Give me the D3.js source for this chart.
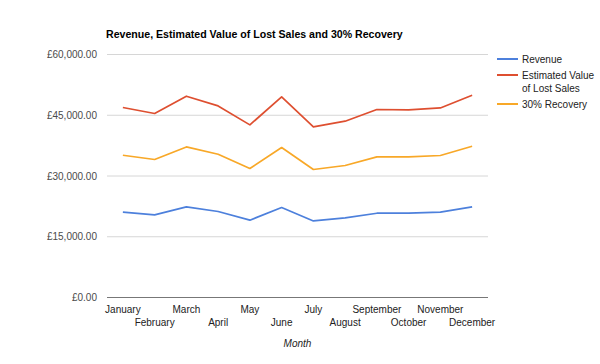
<!DOCTYPE html>
<html>
<head>
<meta charset="utf-8">
<script src="https://cdn.jsdelivr.net/npm/d3@7"></script>
<style>
  body { margin: 0; background: #fff; }
  text { font-family: "Liberation Sans", Arial, sans-serif; }
</style>
</head>
<body>
<svg width="600" height="364"></svg>
<script>
var months = ["January", "February", "March", "April", "May", "June", "July",
    "August", "September", "October", "November", "December"];

var revenue = [21060, 20400, 22370, 21230, 19090, 22220, 18910, 19650, 20810, 20810, 21060, 22370];
var lostSales = [46910, 45430, 49700, 47300, 42620, 49530, 42120, 43530, 46420, 46320, 46810, 49950];
var recovery = [35130, 34070, 37180, 35380, 31850, 37030, 31600, 32590, 34710, 34710, 35060, 37360];

var yTicks = [0, 15000, 30000, 45000, 60000];

var series = [
    { name: ["Revenue"], values: revenue, color: "#4d80dc" },
    { name: ["Estimated Value", "of Lost Sales"], values: lostSales, color: "#de4f30" },
    { name: ["30% Recovery"], values: recovery, color: "#f8a828" }
];

var svg = d3.select("svg"),
    margin = { left: 107, right: 112, top: 54.5, bottom: 66.5 },
    width = +svg.attr("width") - margin.left - margin.right,
    height = +svg.attr("height") - margin.top - margin.bottom,
    g = svg.append("g").attr("transform", "translate(" + margin.left + "," + margin.top + ")");

var x = d3.scaleBand().domain(months).range([0, width]);
var y = d3.scaleLinear().domain([0, 60000]).range([height, 0]);

var fmt = function(v) { return "£" + d3.format(",.2f")(v); };

// gridlines
g.selectAll(".grid")
    .data(yTicks.filter(function(d) { return d > 0; }))
    .enter().append("line")
    .attr("x1", 0).attr("x2", width)
    .attr("y1", function(d) { return y(d); })
    .attr("y2", function(d) { return y(d); })
    .attr("stroke", "#d6d6d6")
    .attr("stroke-width", 1);

// y axis labels
var yAxis = d3.axisLeft(y).tickValues(yTicks).tickFormat(fmt).tickSize(0).tickPadding(10);
var ya = g.append("g").call(yAxis);
ya.select(".domain").remove();
ya.selectAll("text").attr("font-size", 10).attr("fill", "#4a4a4a")
    .style("font-family", "'Liberation Sans', Arial, sans-serif");

// baseline
g.append("line")
    .attr("x1", 0).attr("x2", width)
    .attr("y1", y(0)).attr("y2", y(0))
    .attr("stroke", "#777").attr("stroke-width", 1);

// x labels, staggered in two rows
var xAxis = d3.axisBottom(x).tickSize(0).tickPadding(8);
var xa = g.append("g").attr("transform", "translate(0," + height + ")").call(xAxis);
xa.select(".domain").remove();
xa.selectAll("text")
    .attr("font-size", 10).attr("fill", "#222")
    .style("font-family", "'Liberation Sans', Arial, sans-serif")
    .attr("y", function(d, i) { return i % 2 === 0 ? 8.5 : 21.5; });

// lines
var line = d3.line()
    .x(function(d, i) { return x(months[i]) + x.bandwidth() / 2; })
    .y(function(d) { return y(d); });

g.selectAll(".series")
    .data(series)
    .enter().append("path")
    .attr("d", function(d) { return line(d.values); })
    .attr("fill", "none")
    .attr("stroke", function(d) { return d.color; })
    .attr("stroke-width", 1.7)
    .attr("stroke-linejoin", "round");

// title
svg.append("text")
    .attr("x", margin.left - 1)
    .attr("y", 38)
    .attr("font-size", 10.6)
    .attr("font-weight", "bold")
    .attr("fill", "#000")
    .text("Revenue, Estimated Value of Lost Sales and 30% Recovery");

// x axis title
svg.append("text")
    .attr("x", margin.left + width / 2)
    .attr("y", 347)
    .attr("text-anchor", "middle")
    .attr("font-size", 10)
    .attr("font-style", "italic")
    .attr("fill", "#222")
    .text("Month");

// legend
var legY = [59, 75, 104];
var leg = svg.selectAll(".legend")
    .data(series)
    .enter().append("g")
    .attr("transform", function(d, i) { return "translate(497," + legY[i] + ")"; });

leg.append("line")
    .attr("x1", 0).attr("x2", 21)
    .attr("stroke", function(d) { return d.color; })
    .attr("stroke-width", 2);

leg.append("text")
    .attr("x", 25)
    .attr("font-size", 10)
    .attr("fill", "#222")
    .selectAll("tspan")
    .data(function(d) { return d.name; })
    .enter().append("tspan")
    .attr("x", 25)
    .attr("dy", function(d, i) { return i === 0 ? "0.35em" : "13.7"; })
    .text(function(d) { return d; });
</script>
</body>
</html>
